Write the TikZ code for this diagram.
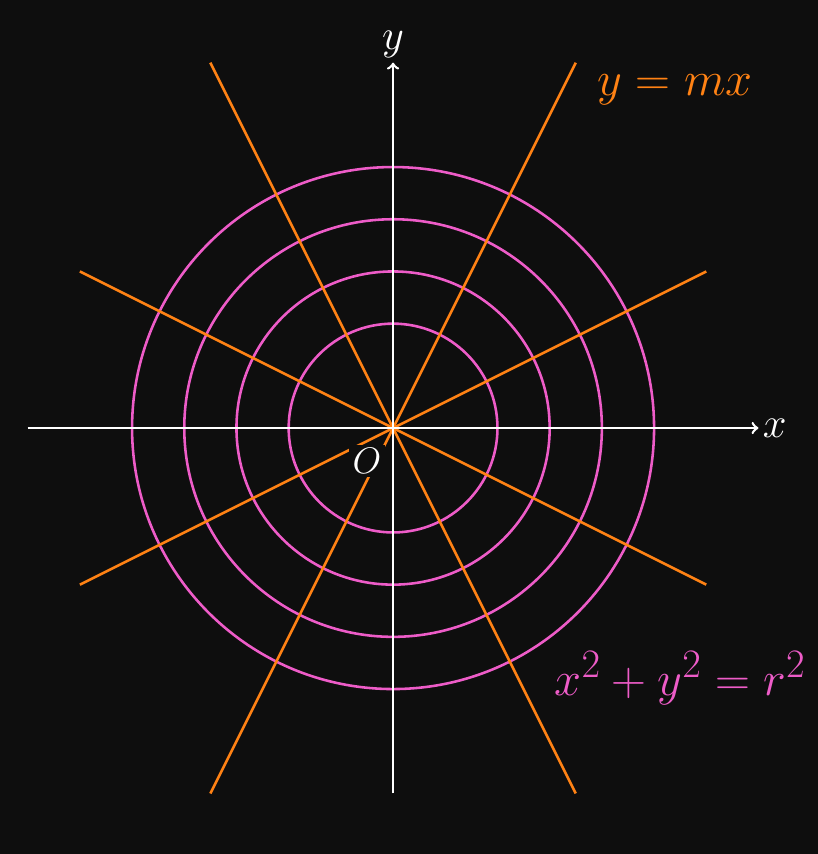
\documentclass[tikz,border=0pt]{standalone}
\usepackage{amsmath}
\definecolor{bg}{RGB}{14,14,14}
\definecolor{lineorange}{RGB}{255,130,20}
\definecolor{circpink}{RGB}{238,92,200}
\begin{document}
\begin{tikzpicture}[
  axis/.style={white, line width=1.4pt, ->},
  ray/.style={lineorange, line width=1.4pt},
  circ/.style={circpink, line width=1.4pt},
  axlabel/.style={white, font=\huge, scale=1.12},
  eqlabel/.style={font=\Huge, scale=1.06}
]
\fill[bg] (-7.53,-8.16) rectangle (8.14,8.2);
\useasboundingbox (-7.53,-8.16) rectangle (8.14,8.2);
\coordinate (O) at (0,0);
% circles
\foreach \r in {2,3,4,5} \draw[circ] (O) circle (\r);
% lines y = mx
\coordinate (a1) at (3.5,7);   \coordinate (a2) at (-3.5,-7);
\coordinate (b1) at (-3.5,7);  \coordinate (b2) at (3.5,-7);
\coordinate (c1) at (6,3);     \coordinate (c2) at (-6,-3);
\coordinate (d1) at (-6,3);    \coordinate (d2) at (6,-3);
\draw[ray] (a1) -- (a2);
\draw[ray] (b1) -- (b2);
\draw[ray] (c1) -- (c2);
\draw[ray] (d1) -- (d2);
% axes
\coordinate (xl) at (-7,0); \coordinate (xr) at (7,0);
\coordinate (yb) at (0,-7); \coordinate (yt) at (0,7);
\draw[axis] (xl) -- (xr);
\draw[axis] (yb) -- (yt);
\node[axlabel, anchor=west, inner sep=2pt] (xlab) at (xr) {$x$};
\node[axlabel, anchor=south, inner sep=2pt] (ylab) at (yt) {$y$};
\node[white, font=\huge, scale=0.97, fill=bg, inner sep=2pt] (olab) at (-0.5,-0.63) {$O$};
\node[eqlabel, lineorange] (eq1) at (5.4,6.48) {$y=mx$};
\node[eqlabel, circpink] (eq2) at (5.5,-4.79) {$x^2+y^2=r^2$};
\end{tikzpicture}
\end{document}
